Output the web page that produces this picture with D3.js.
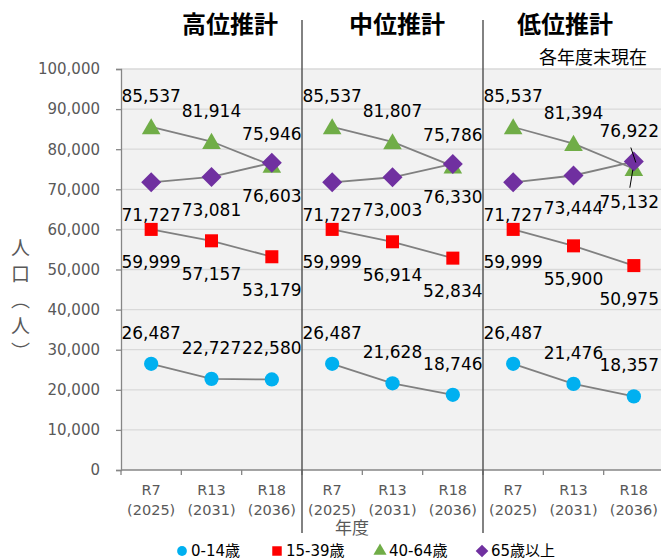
<!DOCTYPE html>
<html>
<head>
<meta charset="utf-8">
<script src="https://cdn.jsdelivr.net/npm/d3@7"></script>
<style>
  body { margin: 0; background: #fff; }
  text { font-family: "DejaVu Sans", "Noto Sans CJK JP", sans-serif; }
</style>
</head>
<body>
<div id="chart"></div>
<script>
// population projection, 3 scenarios side by side
var panels = ["高位推計", "中位推計", "低位推計"];
var years = ["R7", "R13", "R18"];
var fiscalYears = ["(2025)", "(2031)", "(2036)"];
var ageGroups = ["0-14歳", "15-39歳", "40-64歳", "65歳以上"];
var yTicks = [0, 10000, 20000, 30000, 40000, 50000, 60000, 70000, 80000, 90000, 100000];

// values per panel: high, mid, low
var age0_14 = [[26487, 22727, 22580], [26487, 21628, 18746], [26487, 21476, 18357]];
var age15_39 = [[59999, 57157, 53179], [59999, 56914, 52834], [59999, 55900, 50975]];
var age40_64 = [[85537, 81914, 75946], [85537, 81807, 75786], [85537, 81394, 75132]];
var age65up = [[71727, 73081, 76603], [71727, 73003, 76330], [71727, 73444, 76922]];

var width = 661, height = 559;
var margin = {top: 69, right: -3, bottom: 89, left: 121};

var svg = d3.select("#chart")
  .append("svg")
    .attr("width", width)
    .attr("height", height);

// 9 categories, 3 per panel
var cats = [];
panels.forEach(function(p, pi) {
  years.forEach(function(yr, yi) { cats.push(pi + "-" + yi); });
});

var x = d3.scaleBand()
  .domain(cats)
  .range([margin.left, width - margin.right])
  .padding(0);

var y = d3.scaleLinear()
  .domain([0, 100000])
  .range([height - margin.bottom, margin.top]);

var x0 = margin.left, x1 = width - margin.right;

// square diamond (d3's diamond is too tall)
var diamondSq = {
  draw: function(ctx, size) {
    var r = Math.sqrt(size / 2);
    ctx.moveTo(0, -r); ctx.lineTo(r, 0); ctx.lineTo(0, r); ctx.lineTo(-r, 0); ctx.closePath();
  }
};

// plot background + grid
svg.append("rect")
  .attr("x", x0).attr("y", y(100000))
  .attr("width", x1 - x0).attr("height", y(0) - y(100000))
  .attr("fill", "#f2f2f2");

svg.selectAll(".grid")
  .data(yTicks.filter(function(d) { return d > 0; }))
  .enter().append("line")
    .attr("x1", x0).attr("x2", x1)
    .attr("y1", function(d) { return y(d); })
    .attr("y2", function(d) { return y(d); })
    .attr("stroke", "#d9d9d9")
    .attr("stroke-width", 1.3);

// y axis
var yAxis = svg.append("g")
  .attr("transform", "translate(" + x0 + ",0)")
  .call(d3.axisLeft(y).tickValues(yTicks).tickSize(5).tickPadding(16)
    .tickFormat(d3.format(",")));
yAxis.select(".domain").attr("stroke", "#868686").attr("stroke-width", 1.3);
yAxis.selectAll(".tick line").attr("stroke", "#868686").attr("stroke-width", 1.3);
yAxis.selectAll("text").attr("fill", "#595959").style("font-size", "15px");

// x axis line + ticks at band edges
svg.append("line")
  .attr("x1", x0).attr("x2", x1)
  .attr("y1", y(0)).attr("y2", y(0))
  .attr("stroke", "#868686").attr("stroke-width", 1.3);

svg.selectAll(".xtick")
  .data(cats)
  .enter().append("line")
    .attr("x1", function(d) { return x(d); })
    .attr("x2", function(d) { return x(d); })
    .attr("y1", y(0)).attr("y2", y(0) + 5)
    .attr("stroke", "#868686").attr("stroke-width", 1.3);

var xl = svg.selectAll(".xlab")
  .data(cats)
  .enter().append("text")
    .attr("text-anchor", "middle")
    .attr("fill", "#595959")
    .style("font-size", "14.5px");
xl.append("tspan")
  .attr("x", function(d) { return x(d) + x.bandwidth() / 2; })
  .attr("y", y(0) + 25)
  .text(function(d) { return years[+d.split("-")[1]]; });
xl.append("tspan")
  .attr("x", function(d) { return x(d) + x.bandwidth() / 2; })
  .attr("y", y(0) + 45)
  .text(function(d) { return fiscalYears[+d.split("-")[1]]; });

// panel separators
[3, 6].forEach(function(i) {
  svg.append("line")
    .attr("x1", x(cats[i])).attr("x2", x(cats[i]))
    .attr("y1", 20).attr("y2", 533)
    .attr("stroke", "#595959").attr("stroke-width", 1.5);
});

// panel titles
var titleX = [230, 397, 565];
svg.selectAll(".ptitle")
  .data(panels)
  .enter().append("text")
    .attr("x", function(d, i) { return titleX[i]; })
    .attr("y", 33)
    .attr("text-anchor", "middle")
    .style("font-size", "24px")
    .style("font-weight", "bold")
    .attr("fill", "#000")
    .text(function(d) { return d; });

svg.append("text")
  .attr("x", 647).attr("y", 64)
  .attr("text-anchor", "end")
  .style("font-size", "18px")
  .attr("fill", "#000")
  .text("各年度末現在");

// axis titles
svg.append("text")
  .attr("x", 19).attr("y", 238)
  .style("writing-mode", "vertical-rl")
  .style("font-size", "19px")
  .style("letter-spacing", "7px")
  .attr("fill", "#595959")
  .text("人口（人）");

svg.append("text")
  .attr("x", 352).attr("y", 534)
  .attr("text-anchor", "middle")
  .style("font-size", "17px")
  .attr("fill", "#595959")
  .text("年度");

// series
var series = [
  {name: ageGroups[0], values: age0_14, color: "#00b0f0", shape: d3.symbolCircle, size: 160, label: "above"},
  {name: ageGroups[1], values: age15_39, color: "#ff0000", shape: d3.symbolSquare, size: 170, label: "below"},
  {name: ageGroups[2], values: age40_64, color: "#70ad47", shape: d3.symbolTriangle, size: 150, label: "above"},
  {name: ageGroups[3], values: age65up, color: "#7030a0", shape: diamondSq, size: 200, label: "below"}
];

function cx(pi, yi) { return x(pi + "-" + yi) + x.bandwidth() / 2; }

var line = d3.line()
  .x(function(d) { return cx(d.pi, d.yi); })
  .y(function(d) { return y(d.v); });

series.forEach(function(s) {
  s.values.forEach(function(vals, pi) {
    var pts = vals.map(function(v, yi) { return {pi: pi, yi: yi, v: v}; });
    svg.append("path")
      .datum(pts)
      .attr("d", line)
      .attr("fill", "none")
      .attr("stroke", "#808080")
      .attr("stroke-width", 1.8);
    svg.selectAll(null)
      .data(pts)
      .enter().append("path")
        .attr("d", d3.symbol().type(s.shape).size(s.size))
        .attr("transform", function(d) {
          var dy = s.shape === d3.symbolTriangle ? 2 : 0;
          return "translate(" + cx(d.pi, d.yi) + "," + (y(d.v) + dy) + ")";
        })
        .attr("fill", s.color);
  });
});

// data labels
var labels = svg.append("g");
series.forEach(function(s, si) {
  s.values.forEach(function(vals, pi) {
    vals.forEach(function(v, yi) {
      var pos = s.label;
      // low scenario, last year: labels swapped to avoid overlap
      if (pi === 2 && yi === 2 && si === 2) pos = "below";
      if (pi === 2 && yi === 2 && si === 3) pos = "above";
      var t = labels.append("text")
        .attr("x", cx(pi, yi))
        .attr("y", pos === "above" ? y(v) - 25 : y(v) + 39)
        .attr("text-anchor", "middle")
        .style("font-size", "17px")
        .attr("fill", "#000")
        .text(d3.format(",")(v));
      var w = t.node().getComputedTextLength();
      if (cx(pi, yi) + w / 2 > 659) t.attr("x", 659 - w / 2);
    });
  });
});

// leader lines for the swapped labels
var lx = cx(2, 2);
svg.append("line")
  .attr("x1", lx - 3).attr("y1", y(age65up[2][2]) - 14)
  .attr("x2", lx + 2).attr("y2", y(age65up[2][2]) + 1)
  .attr("stroke", "#000").attr("stroke-width", 1);
svg.append("line")
  .attr("x1", lx - 1).attr("y1", y(age40_64[2][2]) + 1)
  .attr("x2", lx - 4).attr("y2", y(age40_64[2][2]) + 19)
  .attr("stroke", "#000").attr("stroke-width", 1);

// legend
var legX = [182, 277, 380, 482];
var leg = svg.selectAll(".leg")
  .data(series)
  .enter().append("g")
    .attr("transform", function(d, i) { return "translate(" + legX[i] + ",551)"; });
leg.append("path")
  .attr("d", function(d) {
    var sz = d.shape === d3.symbolSquare ? 90 : d.shape === diamondSq ? 80 : 75;
    return d3.symbol().type(d.shape).size(sz)();
  })
  .attr("fill", function(d) { return d.color; });
leg.append("text")
  .attr("x", 9).attr("y", 5)
  .style("font-size", "15px")
  .attr("fill", "#000")
  .text(function(d) { return d.name; });
</script>
</body>
</html>
